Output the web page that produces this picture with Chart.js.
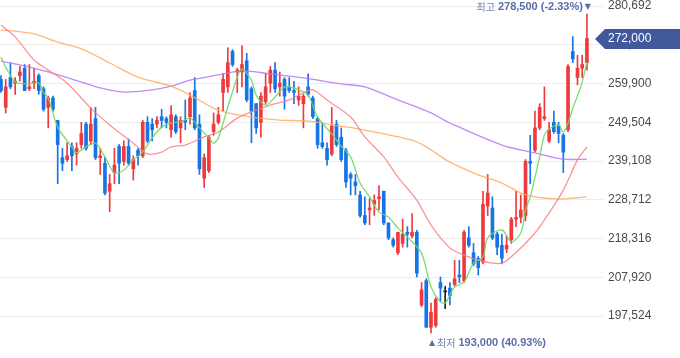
<!DOCTYPE html>
<html>
<head>
<meta charset="utf-8">
<script src="https://cdn.jsdelivr.net/npm/chart.js@4.4.1/dist/chart.umd.min.js"></script>
<style>
html,body{margin:0;padding:0;background:#fff;overflow:hidden;}
#wrap{position:relative;width:680px;height:358px;}
</style>
</head>
<body>
<div id="wrap"><canvas id="c" width="680" height="358"></canvas></div>
<script>
// ---- candle data (index 0..124) ----
const opens  = [261000,253500,261500,260000,262000,264000,258500,260000,262000,258500,253500,256000,250000,240000,239500,243000,241000,243500,249000,244500,250500,240000,238500,231000,236000,243000,239000,243000,237000,242000,240500,249500,249000,249000,251000,250500,247500,251000,248000,250000,251000,258000,249000,234500,236500,247000,249500,257500,259000,268500,263000,263000,266000,258500,254500,249500,255000,260000,263500,259000,261000,259000,258000,255500,254500,259000,256000,250500,244000,242500,241000,249000,245500,242000,235500,233500,230000,224500,226000,227500,229000,231000,222500,218000,214500,217000,220000,219000,220000,200500,207000,194500,195000,206500,204000,205000,206000,208500,207000,218500,214500,213000,212000,227000,226500,219500,216500,215500,218000,223500,224000,224500,239000,242000,248000,250500,244500,249500,248500,246000,247500,268500,261500,264000,265500];
const highs  = [262000,261000,265500,261500,264500,265000,265000,264000,262500,259000,256500,256500,250000,242500,244000,244000,244000,249500,249500,253500,253500,242500,240000,235500,242500,243500,244500,245000,240500,242500,250000,251000,250500,251000,253000,251000,254000,251500,251000,255500,257500,261500,251500,241000,246000,252000,253500,262500,269500,269000,264000,270000,268000,259000,254500,257500,262500,264500,265500,263000,261500,261500,260500,259000,257000,262500,256500,251000,249500,244000,253500,250000,248000,242500,236000,235500,231000,229500,229000,230000,232500,231000,222500,218500,220000,223500,221500,225000,220500,206500,207500,201000,202500,208000,205500,206500,212500,212500,220500,221500,217000,213500,231000,235500,229500,220000,219500,219000,224000,231000,230000,239500,246000,252500,254500,259000,249500,252500,249500,246500,265000,272500,267500,267500,278500];
const lows   = [257500,252000,258500,257000,260500,258000,258000,258500,257000,252500,248000,252500,233000,236500,239000,236500,238000,242500,242000,243500,239500,235500,230000,225500,233000,233000,238000,238000,234000,238000,240000,244000,244500,248000,248000,248000,245500,246500,244000,247500,249000,247500,235500,232000,236000,246000,249000,252500,257500,264500,257500,259000,255000,244000,246500,245500,254500,257500,257500,256500,253000,257500,254500,254000,248000,256500,250500,242500,242500,238000,240500,243000,239000,232000,230000,230000,224000,222000,222000,224500,226000,222000,218000,216000,214000,216000,216000,218500,208000,200000,194500,193000,194500,201500,199500,200500,205500,206500,206500,216000,211000,208500,211500,224500,218000,214000,211500,214500,217000,221500,222500,223000,233000,241500,247500,250000,244000,246500,244000,236000,247000,265500,259500,261500,263500];
const closes = [258000,259000,259000,260500,263000,258000,259000,260500,258000,253000,256000,253000,243500,238500,240500,240500,242500,246500,242500,249000,240000,240500,230500,233000,238000,238500,243000,238500,239500,240500,249500,244500,247500,250000,250000,249500,251500,247000,250000,249500,256000,248000,237000,240000,245500,249000,251500,261000,265500,265000,263500,265000,255500,252500,248000,256500,259000,263500,258500,260000,256500,258000,257500,256500,256500,257000,251000,243500,243000,239500,248500,243500,239500,233500,234500,232500,224500,222500,226500,228500,229500,222500,218500,216500,220000,219500,219500,220000,209000,204500,194500,198500,202000,205000,204000,203000,207500,208000,220000,216500,211500,210500,227500,230500,218500,216000,213000,216500,223500,224000,226000,239000,238500,248000,253500,251000,247500,247000,246500,241500,264500,266500,264000,265000,272000];

// ---- moving averages: [candle index, value] ----
const ma5 = [[0,267000],[1,264300],[3,260300],[5,259800],[8,260000],[9,257400],[10,256000],[12,248200],[15,242900],[16,241300],[18,242900],[20,243900],[22,240200],[24,235900],[26,236700],[28,239400],[30,241500],[32,245300],[34,248200],[36,249300],[38,249600],[40,250600],[42,248000],[44,245300],[45,243900],[46,245300],[48,253600],[50,261600],[51,263800],[53,260800],[54,256800],[56,254100],[58,256300],[60,259000],[61,259000],[63,258200],[65,256800],[67,250900],[70,246400],[72,243100],[74,240200],[76,233200],[78,229500],[80,225400],[82,224100],[84,221100],[86,218700],[89,214400],[91,205300],[93,201300],[94,201000],[96,205300],[98,206600],[100,211700],[102,213400],[103,218500],[106,220600],[108,217400],[110,219800],[111,225900],[112,229500],[114,240200],[115,246100],[116,247700],[118,248800],[119,246900],[120,249300],[121,253200],[122,256600],[123,260300],[124,265700]];
const ma20 = [[0,275600],[3,272400],[7,266200],[10,263500],[14,260000],[19,253300],[23,248800],[28,243900],[31,241000],[34,241500],[36,242900],[39,243400],[43,245600],[46,246900],[50,250600],[53,252300],[57,254100],[61,255500],[64,257400],[66,258200],[69,255500],[74,250900],[77,245600],[81,240200],[84,234800],[88,228600],[91,221900],[95,215800],[99,213400],[101,212500],[104,211700],[106,211700],[108,213400],[113,219800],[116,225200],[119,231300],[122,239400],[124,242900]];
const ma60 = [[0,274300],[7,273200],[12,271000],[17,269200],[23,265400],[29,261600],[36,259200],[40,256800],[45,253300],[48,252000],[53,250900],[59,250100],[65,249800],[70,248800],[77,247400],[87,244700],[90,242900],[95,238800],[101,235400],[106,233200],[111,230000],[118,228900],[124,229500]];
const ma120 = [[0,265900],[4,264900],[10,263000],[17,260300],[21,258700],[26,257600],[32,258200],[36,259200],[40,260800],[46,262200],[51,263300],[57,262500],[64,261400],[72,259800],[77,259000],[84,255500],[91,252000],[95,249300],[106,243400],[113,241300],[119,239600],[124,239600]];

// ---- axis ticks ----
const yTicks = [280692,270296,259900,249504,239108,228712,218316,207920,197524];

const HIGH_IDX = 124, HIGH_VAL = 278500, HIGH_TXT = '278,500 (-2.33%)';
const LOW_IDX = 91, LOW_VAL = 193000, LOW_TXT = '193,000 (40.93%)';
const LAST_VAL = 272000;

const UP = '#ee3a3f', DOWN = '#1674e6', FLAT = '#222222';
const idx = opens.map((_, i) => i);
const candleColor = idx.map(i => closes[i] > opens[i] ? UP : (closes[i] < opens[i] ? DOWN : FLAT));
const fmt = v => Math.round(v).toString().replace(/\B(?=(\d{3})+(?!\d))/g, ',');
const toXY = arr => arr.map(([x, y]) => ({x, y}));

const overlay = {
  id: 'overlay',
  afterDraw(chart) {
    const {ctx, scales: {x, y}} = chart;
    ctx.save();
    // highest marker
    const hx = x.getPixelForValue(HIGH_IDX), hy = y.getPixelForValue(HIGH_VAL) - 7;
    ctx.textBaseline = 'middle';
    ctx.fillStyle = '#5d6ea8';
    ctx.font = '8px "DejaVu Sans"';
    ctx.textAlign = 'center';
    ctx.fillText('▼', hx + 1, hy);
    ctx.font = 'bold 11px "Liberation Sans"';
    ctx.textAlign = 'right';
    let tx = hx - 4;
    ctx.fillText(HIGH_TXT, tx, hy);
    tx -= ctx.measureText(HIGH_TXT).width + 3;
    ctx.fillStyle = '#7282b6';
    ctx.font = '10px "Noto Sans CJK KR"';
    ctx.fillText('최고', tx, hy);
    // lowest marker
    const lx = x.getPixelForValue(LOW_IDX), ly = y.getPixelForValue(LOW_VAL) + 10;
    ctx.fillStyle = '#5d6ea8';
    ctx.font = '8px "DejaVu Sans"';
    ctx.textAlign = 'center';
    ctx.fillText('▲', lx + 1, ly);
    ctx.textAlign = 'left';
    let bx = lx + 6;
    ctx.fillStyle = '#7282b6';
    ctx.font = '10px "Noto Sans CJK KR"';
    ctx.fillText('최저', bx, ly);
    bx += ctx.measureText('최저').width + 3;
    ctx.fillStyle = '#5d6ea8';
    ctx.font = 'bold 11px "Liberation Sans"';
    ctx.fillText(LOW_TXT, bx, ly);
    // last price badge
    const cy = y.getPixelForValue(LAST_VAL) + 0.5;
    const left = chart.chartArea.right - 8;
    ctx.fillStyle = '#41599b';
    ctx.beginPath();
    ctx.moveTo(left, cy);
    ctx.lineTo(left + 10, cy - 10);
    ctx.lineTo(680, cy - 10);
    ctx.lineTo(680, cy + 10);
    ctx.lineTo(left + 10, cy + 10);
    ctx.closePath();
    ctx.fill();
    ctx.fillStyle = '#ffffff';
    ctx.font = '12px "Liberation Sans"';
    ctx.textAlign = 'left';
    ctx.fillText(fmt(LAST_VAL), chart.chartArea.right + 5, cy);
    ctx.restore();
  }
};

const lineDs = (label, data, color) => ({
  type: 'line', label, data: toXY(data), borderColor: color, borderWidth: 1.3,
  pointRadius: 0, tension: 0.3, fill: false, order: 0
});

new Chart(document.getElementById('c'), {
  type: 'bar',
  data: {
    datasets: [
      lineDs('MA5', ma5, 'rgba(110,215,100,0.9)'),
      lineDs('MA20', ma20, 'rgba(255,120,120,0.8)'),
      lineDs('MA60', ma60, 'rgba(255,170,100,0.85)'),
      lineDs('MA120', ma120, 'rgba(180,120,245,0.85)'),
      {
        type: 'bar', label: 'wick', order: 3, grouped: false, barThickness: 1,
        data: idx.map(i => ({x: i, y: [lows[i], highs[i]]})),
        backgroundColor: candleColor
      },
      {
        type: 'bar', label: 'body', order: 2, grouped: false, barThickness: 3, minBarLength: 1,
        data: idx.map(i => ({x: i, y: [opens[i], closes[i]]})),
        backgroundColor: candleColor
      }
    ]
  },
  options: {
    responsive: false,
    animation: false,
    devicePixelRatio: 1,
    layout: {padding: 0},
    plugins: {legend: {display: false}, tooltip: {enabled: false}},
    scales: {
      x: {
        type: 'linear', min: -0.21, max: 127.4, offset: false, display: false
      },
      y: {
        position: 'right', min: 186256, max: 282307,
        border: {display: false},
        grid: {color: '#ededed', drawTicks: false, lineWidth: 1},
        afterBuildTicks: axis => { axis.ticks = yTicks.map(v => ({value: v})); },
        afterFit: axis => { axis.width = 77; axis.paddingTop = 0; axis.paddingBottom = 0; },
        ticks: {
          padding: 5, color: '#4a4a4a',
          font: {family: '"Liberation Sans"', size: 12},
          callback: v => fmt(v)
        }
      }
    }
  },
  plugins: [overlay]
});
</script>
</body>
</html>
